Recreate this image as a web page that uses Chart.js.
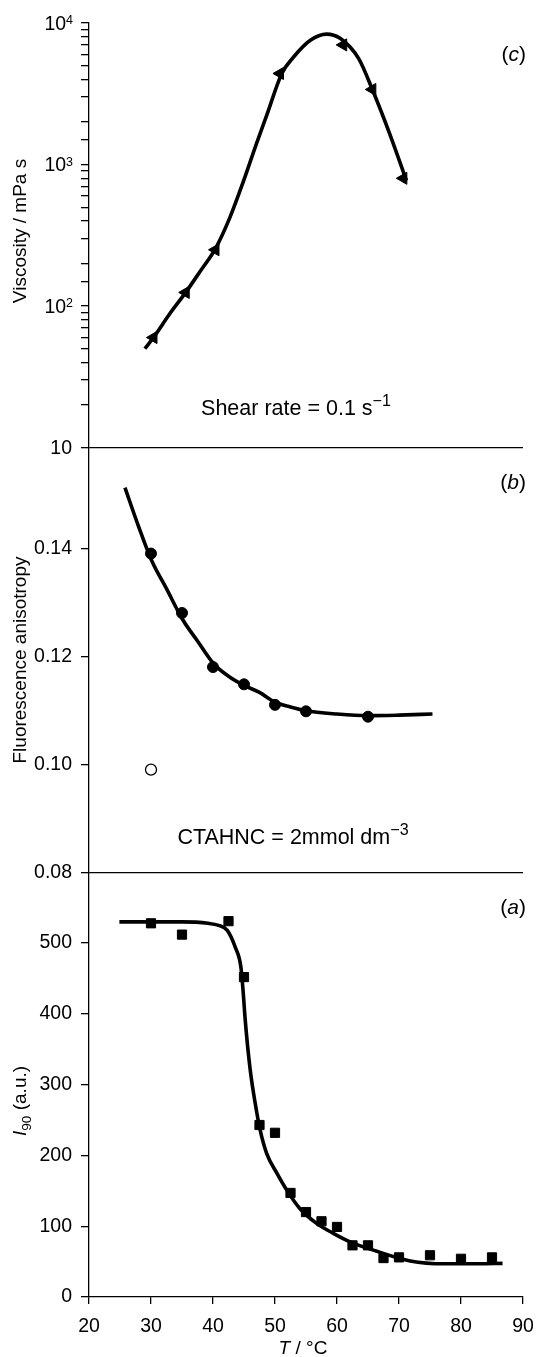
<!DOCTYPE html>
<html>
<head>
<meta charset="utf-8">
<script src="https://cdn.jsdelivr.net/npm/chart.js@4.4.1/dist/chart.umd.min.js"></script>
<style>
  html, body { margin: 0; padding: 0; background: #fff; }
  #wrap { width: 537px; height: 1357px; }
</style>
</head>
<body>
<div id="wrap"><canvas id="chart" width="537" height="1357"></canvas></div>
<script>
// panel (c): viscosity, shear rate 0.1 s-1
const viscT = [30.4, 35.6, 40.4, 50.8, 61.0, 65.7, 70.7];
const viscVal = [60, 125, 250, 4400, 7000, 3390, 800];
const viscFitT = [29.0, 30.4, 33.0, 35.6, 38.0, 40.4, 42.7, 44.9, 47.0, 48.7, 51.1, 53.0, 55.7, 58.3, 60.5, 63.5, 65.7, 68.5, 71.2];
const viscFitVal = [50, 60, 88, 125, 178, 255, 420, 760, 1400, 2250, 4400, 5750, 7550, 8350, 7800, 5600, 3390, 1650, 770];

// panel (b): fluorescence anisotropy
const anisoT = [30, 35, 40, 45, 50, 55, 65];
const anisoVal = [0.139, 0.128, 0.118, 0.1148, 0.111, 0.1098, 0.1088];
const anisoOpenT = [30];
const anisoOpenVal = [0.099];
const anisoFitT = [25.8, 28.0, 30.1, 32.5, 35.1, 37.5, 40.1, 42.5, 45.0, 47.5, 50.0, 52.5, 55.0, 60.0, 65.0, 70.0, 75.4];
const anisoFitVal = [0.1512, 0.1440, 0.1377, 0.1325, 0.1268, 0.1228, 0.1186, 0.1163, 0.1146, 0.1133, 0.1115, 0.1106, 0.1099, 0.1093, 0.1090, 0.1091, 0.1093];

// panel (a): I90 scattered intensity
const intT = [30, 35, 42.5, 45, 47.5, 50, 52.5, 55, 57.5, 60, 62.5, 65, 67.5, 70, 75, 80, 85];
const intVal = [528, 512, 531, 452, 243, 232, 147, 120, 107, 99, 73, 73, 55, 56, 59, 54, 56];
const intFitT = [24.9, 30, 35, 39.2, 40.9, 42.3, 43.6, 44.5, 44.85, 45.2, 46.0, 46.8, 47.6, 48.65, 50.3, 51.9, 54.0, 56.7, 59.4, 62.1, 66.3, 71.8, 77.3, 82.8, 86.7];
const intFitVal = [530, 530, 530, 528, 525, 518, 494, 466, 433, 391, 321, 274, 236, 203, 175, 151, 125, 104, 90, 78, 65, 51, 47, 47, 47.5];

// ticks
const xTicks = [20, 30, 40, 50, 60, 70, 80, 90];
const anisoTicks = [0.08, 0.10, 0.12, 0.14];
const intTicks = [0, 100, 200, 300, 400, 500];
const viscDecades = [10, 100, 1000, 10000];
const viscExp = ['', '2', '3', '4'];

const FONT = "'Liberation Sans', Arial, Helvetica, sans-serif";
const TICK_SIZE = 19.5;
Chart.defaults.font.family = FONT;
Chart.defaults.color = '#000';

const pts = (xs, ys) => xs.map((x, i) => ({ x: x, y: ys[i] }));
const setTicks = list => scale => { scale.ticks = list.map(v => ({ value: v })); };
const AXIS_W = 89;

function boundary(val) {
  return c => (c.tick && Math.abs(c.tick.value - val) < 1e-9) ? '#000' : 'rgba(0,0,0,0)';
}

function yAxis(extra) {
  return Object.assign({
    position: 'left',
    stack: 'panels',
    stackWeight: 1,
    afterFit: s => { s.width = AXIS_W; s.paddingTop = 0; s.paddingBottom = 0; },
    border: { color: '#000', width: 1.3 }
  }, extra);
}

// mixed-style text helper (italic, sub, superscript parts)
function segFont(s, size) {
  const sz = (s.sup || s.sub) ? size * (s.k || 0.72) : size;
  return (s.italic ? 'italic ' : '') + sz + 'px ' + FONT;
}
function drawRich(ctx, segs, x, y, size, align) {
  let total = 0;
  segs.forEach(s => { ctx.font = segFont(s, size); s.w = ctx.measureText(s.t).width; total += s.w; });
  let cx = align === 'center' ? x - total / 2 : (align === 'right' ? x - total : x);
  segs.forEach(s => {
    ctx.font = segFont(s, size);
    const dy = s.sup ? -size * (s.up || 0.4) : (s.sub ? size * 0.25 : 0);
    ctx.fillText(s.t, cx, y + dy);
    cx += s.w;
  });
}
function drawRotated(ctx, segs, x, y, size) {
  ctx.save();
  ctx.translate(x, y);
  ctx.rotate(-Math.PI / 2);
  drawRich(ctx, segs, 0, 0, size, 'center');
  ctx.restore();
}

const textPlugin = {
  id: 'texts',
  afterDraw(chart) {
    const ctx = chart.ctx;
    ctx.save();
    ctx.fillStyle = '#000';
    ctx.textAlign = 'left';
    ctx.textBaseline = 'alphabetic';

    // log axis labels 10, 10^2 ... placed on the scale's own pixels
    const yV = chart.scales.yV;
    viscDecades.forEach((v, i) => {
      const py = yV.getPixelForValue(v) + TICK_SIZE * 0.35;
      const segs = [{ t: '10' }];
      if (viscExp[i]) segs.push({ t: viscExp[i], sup: true, k: 0.64, up: 0.3 });
      drawRich(ctx, segs, viscExp[i] ? 73 : 72, py, TICK_SIZE, 'right');
    });

    drawRotated(ctx, [{ t: 'Viscosity / mPa s' }], 26, 231, 19);
    drawRotated(ctx, [{ t: 'Fluorescence anisotropy' }], 26, 660, 19);
    drawRotated(ctx, [{ t: 'I', italic: true }, { t: '90', sub: true }, { t: ' (a.u.)' }], 26, 1101, 19);
    drawRich(ctx, [{ t: 'T', italic: true }, { t: ' / \u00B0C' }], 303, 1354, 19, 'center');
    drawRich(ctx, [{ t: '(' }, { t: 'c', italic: true }, { t: ')' }], 526, 61, 21, 'right');
    drawRich(ctx, [{ t: '(' }, { t: 'b', italic: true }, { t: ')' }], 526, 489, 21, 'right');
    drawRich(ctx, [{ t: '(' }, { t: 'a', italic: true }, { t: ')' }], 526, 914, 21, 'right');
    drawRich(ctx, [{ t: 'Shear rate = 0.1 s' }, { t: '\u22121', sup: true, k: 0.75 }], 296, 415, 21.5, 'center');
    drawRich(ctx, [{ t: 'CTAHNC = 2mmol dm' }, { t: '\u22123', sup: true, k: 0.75 }], 293, 844, 21.5, 'center');
    ctx.restore();
  }
};

const fitStyle = {
  showLine: true,
  borderColor: '#000',
  borderWidth: 3.6,
  pointRadius: 0,
  cubicInterpolationMode: 'monotone',
  fill: false
};

const tickFont = { font: { size: TICK_SIZE }, padding: 9, color: '#000', autoSkip: false };

new Chart('chart', {
  type: 'scatter',
  data: {
    datasets: [
      Object.assign({ data: pts(viscFitT, viscFitVal), yAxisID: 'yV' }, fitStyle),
      {
        data: pts(viscT, viscVal), yAxisID: 'yV',
        pointStyle: 'triangle', rotation: -90, pointRadius: 7,
        backgroundColor: '#000', borderColor: '#000', borderWidth: 1
      },
      Object.assign({ data: pts(anisoFitT, anisoFitVal), yAxisID: 'yF' }, fitStyle),
      {
        data: pts(anisoT, anisoVal), yAxisID: 'yF',
        pointStyle: 'circle', pointRadius: 5.5,
        backgroundColor: '#000', borderColor: '#000', borderWidth: 1
      },
      {
        data: pts(anisoOpenT, anisoOpenVal), yAxisID: 'yF',
        pointStyle: 'circle', pointRadius: 5.5,
        backgroundColor: '#fff', borderColor: '#000', borderWidth: 1.3
      },
      Object.assign({ data: pts(intFitT, intFitVal), yAxisID: 'yI' }, fitStyle),
      {
        data: pts(intT, intVal), yAxisID: 'yI',
        pointStyle: 'rect', pointRadius: 6.5,
        backgroundColor: '#000', borderColor: '#000', borderWidth: 1
      }
    ]
  },
  options: {
    responsive: false,
    animation: false,
    devicePixelRatio: 1,
    layout: { padding: { top: 23, right: 14, left: 0, bottom: 0 } },
    plugins: { legend: { display: false }, tooltip: { enabled: false } },
    scales: {
      x: {
        type: 'linear',
        position: 'bottom',
        min: 20,
        max: 90,
        afterBuildTicks: setTicks(xTicks),
        afterFit: s => { s.height = 60; s.paddingLeft = 0; s.paddingRight = 0; },
        grid: { drawOnChartArea: false, tickLength: 7, color: '#000', lineWidth: 1.3 },
        border: { color: '#000', width: 1.3 },
        ticks: Object.assign({}, tickFont, { padding: 11, maxRotation: 0 })
      },
      yI: yAxis({
        type: 'linear',
        weight: 1,
        min: 0,
        max: 600,
        afterBuildTicks: setTicks(intTicks),
        grid: { color: 'rgba(0,0,0,0)', tickColor: '#000', tickLength: 8, lineWidth: 1.3 },
        ticks: Object.assign({}, tickFont, { callback: v => String(v) })
      }),
      yF: yAxis({
        type: 'linear',
        weight: 2,
        min: 0.08,
        max: 0.1586,
        afterBuildTicks: setTicks(anisoTicks),
        grid: { color: boundary(0.08), tickColor: '#000', tickLength: 8, lineWidth: 1.3 },
        ticks: Object.assign({}, tickFont, { callback: v => v.toFixed(2) })
      }),
      yV: yAxis({
        type: 'logarithmic',
        weight: 3,
        min: 10,
        max: 10000,
        grid: { color: boundary(10), tickColor: '#000', tickLength: 8, lineWidth: 1.3 },
        ticks: Object.assign({}, tickFont, { callback: () => '' })
      })
    }
  },
  plugins: [textPlugin]
});
</script>
</body>
</html>
